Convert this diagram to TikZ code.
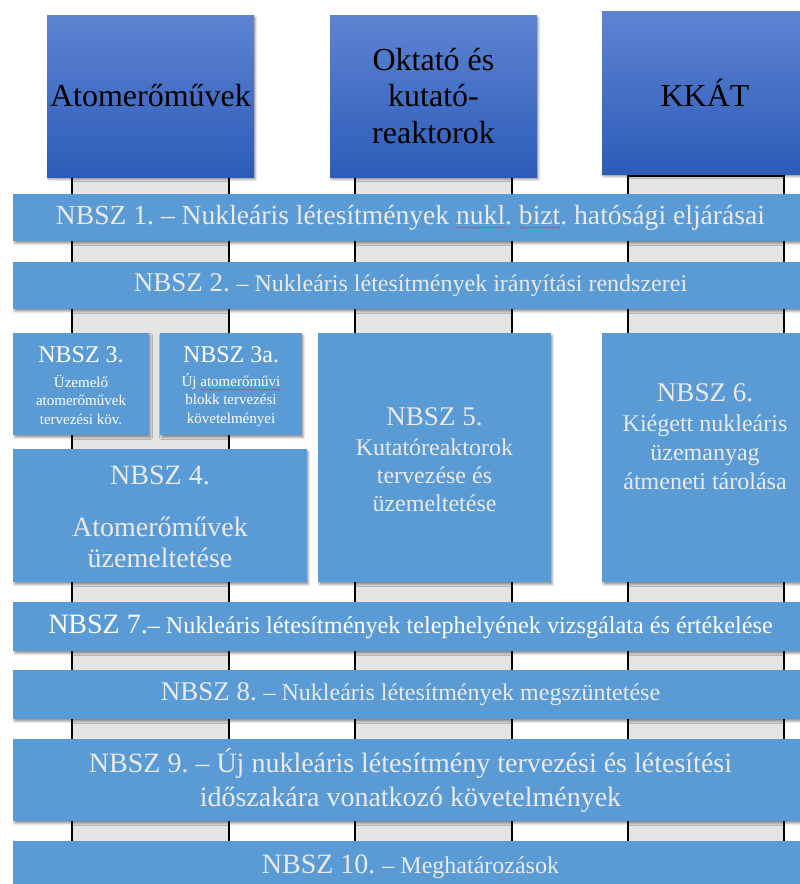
\documentclass[tikz,border=0pt]{standalone}
\usepackage{fontspec}
\setmainfont{Liberation Serif}
\usetikzlibrary{positioning,shadows.blur}
\definecolor{barblue}{RGB}{91,155,213}
\definecolor{headtop}{RGB}{94,131,210}
\definecolor{headbot}{RGB}{44,92,184}
\definecolor{barfont}{RGB}{234,234,234}
\definecolor{pilgray}{RGB}{228,228,228}
\frenchspacing
% red spell-check wave under a word
\newcommand\spellwave[1]{\setbox0\hbox{#1}\rlap{\raisebox{-6pt}[0pt][0pt]{\textcolor{red}{%
  \fontsize{7}{7}\selectfont\hbox to\wd0{\xleaders\hbox{\string~}\hfil}}}}#1}
\newcommand\fs[2]{\fontsize{#1}{#2}\selectfont}
\tikzset{
  head/.style={rectangle, top color=headtop, bottom color=headbot, align=center, text=black,
    inner sep=0pt, font=\fs{32}{36.5},
    blur shadow={shadow xshift=1.5pt, shadow yshift=-2.5pt, shadow blur radius=2pt, shadow opacity=40}},
  bar/.style={rectangle, fill=barblue, align=center, text=barfont, inner sep=0pt,
    blur shadow={shadow xshift=1.5pt, shadow yshift=-2.5pt, shadow blur radius=2pt, shadow opacity=40}},
  bartext/.style={align=center, text=barfont, inner sep=0pt},
  pillar/.style={draw=black, line width=1.4pt, fill=pilgray},
}

\begin{document}
\begin{tikzpicture}[x=1pt, y=-1pt]
\useasboundingbox (0,0) rectangle (800,884);
\clip (0,0) rectangle (800,884);

% pillars behind everything
\foreach \xl/\xr in {72/229, 355/512, 628/784}
  \draw[pillar] (\xl,176) rectangle (\xr,900);

% column heads
\node[head, minimum width=207, minimum height=162] (atom) at (150.5,96) {Atomerőművek};
\node[head, minimum width=207, minimum height=162] (okt) at (433.5,96)
  {Oktató és\\kutató-\\reaktorok};
\node[head, minimum width=206, minimum height=163] (kkat) at (705,92.5) {KKÁT};

% full-width bars
\node[bar, font=\fs{27.6}{30}, minimum width=795, minimum height=47] (nbsz1) at (410.5,217.5)
  {NBSZ 1. -- Nukleáris létesítmények \spellwave{nukl}. \spellwave{bizt}. hatósági eljárásai};
\node[bar, minimum width=795, minimum height=47] (nbsz2) at (410.5,285.5)
  {\fs{27}{30}NBSZ 2. {\fs{24}{27}-- Nukleáris létesítmények irányítási rendszerei}};

% middle blocks
\node[bar, minimum width=136, minimum height=102] (nbsz3) at (81,384) {};
\node[bartext, text=white, font=\fs{24}{26}] (nbsz3h) at (81,355) {NBSZ 3.};
\node[bartext, text=white, font=\fs{15}{18.5}] (nbsz3t) at (81,400)
  {Üzemelő\\atomerőművek\\tervezési köv.};
\node[bar, minimum width=142, minimum height=102] (nbsz3a) at (231,384) {};
\node[bartext, text=white, font=\fs{24}{26}] (nbsz3ah) at (231,355) {NBSZ 3a.};
\node[bartext, text=white, font=\fs{15}{18.5}] (nbsz3at) at (231,400)
  {Új \spellwave{atomerőművi}\\blokk tervezési\\követelményei};
\node[bar, minimum width=294, minimum height=133] (nbsz4) at (160,515.5) {};
\node[bartext, font=\fs{28}{31}] (nbsz4h) at (160,475) {NBSZ 4.};
\node[bartext, font=\fs{28}{31}] (nbsz4t) at (160,542) {Atomerőművek\\üzemeltetése};
\node[bar, minimum width=233, minimum height=249] (nbsz5) at (434.5,457.5) {};
\node[bartext, font=\fs{27}{30}] (nbsz5h) at (434.5,417) {NBSZ 5.};
\node[bartext, font=\fs{24}{28}] (nbsz5t) at (434.5,475)
  {Kutatóreaktorok\\tervezése és\\üzemeltetése};
\node[bar, minimum width=206, minimum height=249] (nbsz6) at (705,457.5) {};
\node[bartext, font=\fs{27}{30}] (nbsz6h) at (705,393) {NBSZ 6.};
\node[bartext, font=\fs{24}{29}] (nbsz6t) at (705,452)
  {Kiégett nukleáris\\üzemanyag\\átmeneti tárolása};

% lower bars
\node[bar, text=white, minimum width=795, minimum height=49] (nbsz7) at (410.5,626.5)
  {\fs{28}{30}NBSZ 7.{\fs{24.2}{27}-- Nukleáris létesítmények telephelyének vizsgálata és értékelése}};
\node[bar, minimum width=795, minimum height=49] (nbsz8) at (410.5,694.5)
  {\fs{27}{30}NBSZ 8. {\fs{24}{27}-- Nukleáris létesítmények megszüntetése}};
\node[bar, font=\fs{28}{34}, minimum width=795, minimum height=82] (nbsz9) at (410.5,780)
  {NBSZ 9. -- Új nukleáris létesítmény tervezési és létesítési\\időszakára vonatkozó követelmények};
\node[bar, minimum width=795, minimum height=58] (nbsz10) at (410.5,870) {};
\node[bartext] (nbsz10t) at (410.5,867)
  {\fs{28}{30}NBSZ 10. {\fs{24}{27}-- Meghatározások}};

\end{tikzpicture}
\end{document}
